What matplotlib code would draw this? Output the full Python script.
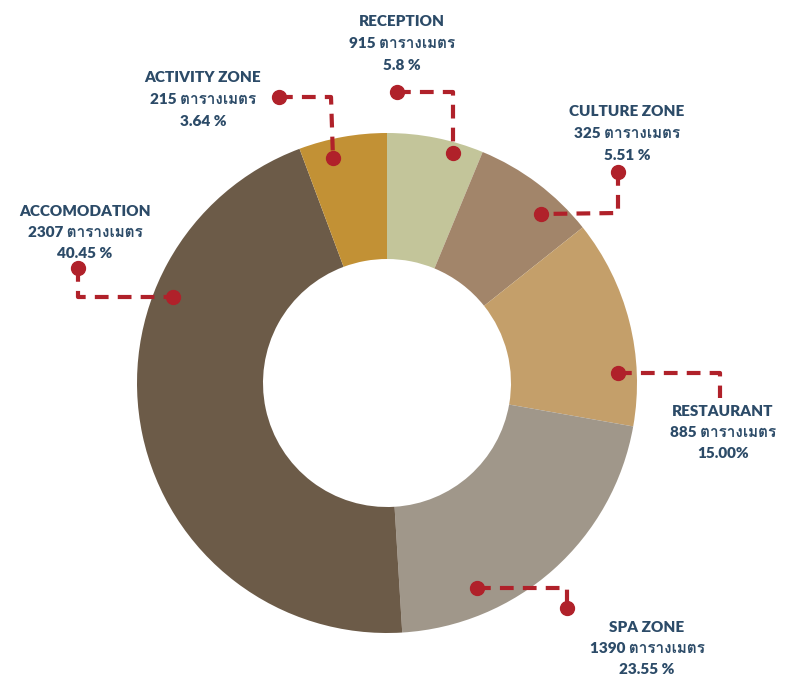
import matplotlib
matplotlib.use("Agg")
import matplotlib.pyplot as plt
from matplotlib import font_manager
from matplotlib.ft2font import FT2Font

# zones, clockwise from 12 o'clock
zones = ["RECEPTION", "CULTURE ZONE", "RESTAURANT", "SPA ZONE", "ACCOMODATION", "ACTIVITY ZONE"]
areas = [915, 325, 885, 1390, 2307, 215]
pct_labels = ["5.8 %", "5.51 %", "15.00%", "23.55 %", "40.45 %", "3.64 %"]
# slice sizes as drawn in the picture (percent of the ring)
slice_share = [6.25, 8.06, 13.47, 21.25, 45.28, 5.69]
colors = ["#c3c59a", "#a2856a", "#c49f6a", "#a0978a", "#6c5b48", "#c29135"]

W, H = 792, 679
TEXT = "#2c4b68"
RED = "#b0212a"


def find_thai_font():
    for f in font_manager.fontManager.ttflist:
        try:
            ft = FT2Font(f.fname)
            if ft.get_char_index(ord("ต")) != 0:
                return f.name
        except Exception:
            pass
    return None


thai = find_thai_font()
fams = ["Lato"] + ([thai] if thai else []) + ["DejaVu Sans"]
plt.rcParams["font.family"] = fams

fig = plt.figure(figsize=(W / 100, H / 100), dpi=100)
ax = fig.add_axes([0, 0, 1, 1])

cx, cy, R = 387, 383, 250
ax.pie(slice_share, colors=colors, startangle=90, counterclock=False,
       center=(cx, H - cy), radius=R,
       wedgeprops=dict(width=126, edgecolor="none", linewidth=0))
ax.set_xlim(0, W)
ax.set_ylim(0, H)
ax.set_aspect("equal")
ax.axis("off")


def leader(pts, end_dot=True):
    xs = [p[0] for p in pts]
    ys = [H - p[1] for p in pts]
    ax.plot(xs, ys, color=RED, lw=3, ls=(0, (3.3, 2.2)), solid_capstyle="butt", zorder=5)
    ax.plot(xs[0], ys[0], "o", color=RED, ms=10, zorder=6)
    if end_dot:
        ax.plot(xs[-1], ys[-1], "o", color=RED, ms=10, zorder=6)


# label centre x, first line y (pixels from top)
label_pos = [(402, 22), (627, 112), (723, 411), (647, 627), (85, 211), (203, 78)]
leaders = [
    [(397, 92), (453, 92), (453, 153)],
    [(618, 172), (618, 213), (541, 214)],
    [(618, 373), (720, 373), (720, 398)],
    [(477, 588), (567, 588), (567, 608)],
    [(78, 268), (78, 297), (173, 297)],
    [(279, 97), (331, 97), (333, 158)],
]

for i, z in enumerate(zones):
    x, y = label_pos[i]
    lines = [z, f"{areas[i]} ตารางเมตร", pct_labels[i]]
    for k, s in enumerate(lines):
        ax.text(x, H - (y + 21.5 * k), s, ha="center", va="center",
                fontsize=11, fontweight="heavy", color=TEXT)
    leader(leaders[i], end_dot=(zones[i] != "RESTAURANT"))

fig.savefig("out.png", dpi=100)
